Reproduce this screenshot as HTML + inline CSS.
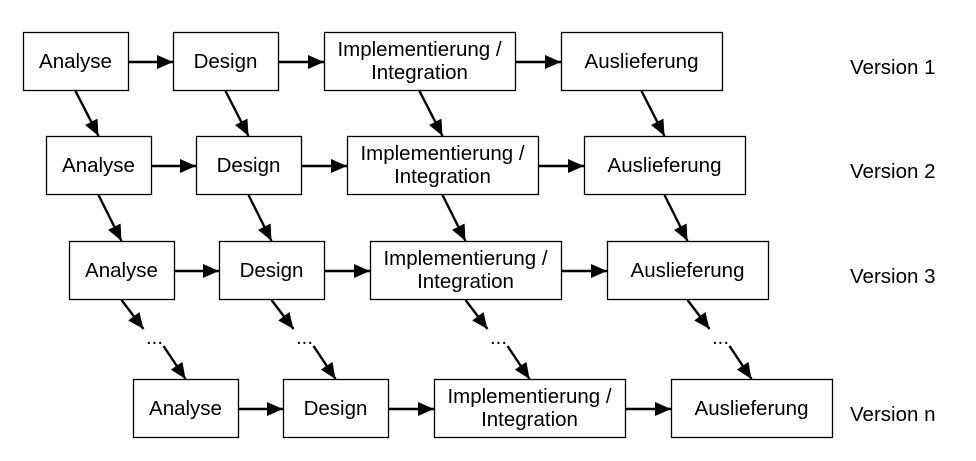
<!DOCTYPE html>
<html><head><meta charset="utf-8"><style>
html,body{margin:0;padding:0;background:#fff;width:976px;height:461px;overflow:hidden}
svg{display:block}
text{font-family:"Liberation Sans",Arial,sans-serif;font-size:20.5px;fill:#000}
</style></head><body>
<svg id="s" width="976" height="461" viewBox="0 0 976 461" xmlns="http://www.w3.org/2000/svg">
<defs>
<marker id="h" viewBox="0 0 16 14" markerWidth="16" markerHeight="14" refX="16" refY="7" orient="auto" markerUnits="userSpaceOnUse"><path d="M0,0 L16,7 L0,14 Z" fill="#000"/></marker></defs>
</svg>
<script>
var s=document.getElementById('s'),ns='http://www.w3.org/2000/svg';
function el(t,a,txt){var e=document.createElementNS(ns,t);for(var k in a)e.setAttribute(k,a[k]);if(txt)e.textContent=txt;s.appendChild(e);return e;}
var rows=[[0,32,'Version 1'],[23,136,'Version 2'],[46,241,'Version 3'],[110,379,'Version n']];
var cols=[[23,105,['Analyse']],[173,105,['Design']],[324,191,['Implementierung /','Integration']],[561,161,['Auslieferung']]];
var H=58;
rows.forEach(function(r,ri){
 var dx=r[0],y=r[1];
 cols.forEach(function(c,ci){
  var x=c[0]+dx;
  el('rect',{x:x+0.5,y:y+0.5,width:c[1],height:H,fill:'#fff',stroke:'#000','stroke-width':1.3});
  var cx=x+c[1]/2;
  if(c[2].length==1) el('text',{x:cx,y:y+H/2+7,'text-anchor':'middle'},c[2][0]);
  else{el('text',{x:cx,y:y+H/2-5,'text-anchor':'middle'},c[2][0]);el('text',{x:cx,y:y+H/2+18,'text-anchor':'middle'},c[2][1]);}
  if(ci<3){var nx=cols[ci+1][0]+dx;el('line',{x1:x+c[1]+1,y1:y+H/2+1,x2:nx,y2:y+H/2+1,stroke:'#000','stroke-width':2.4,'marker-end':'url(#h)'});}
  var bx=x+c[1]/2;
  if(ri<2){el('line',{x1:bx,y1:y+H+1,x2:bx+23,y2:rows[ri+1][1],stroke:'#000','stroke-width':2.4,'marker-end':'url(#h)'});}
  else if(ri==2){
   el('line',{x1:bx,y1:y+H+1,x2:bx+22,y2:y+H+30,stroke:'#000','stroke-width':2.4,'marker-end':'url(#h)'});
   el('text',{x:bx+33,y:y+H+45,'text-anchor':'middle'},'...');
   el('line',{x1:bx+42,y1:y+H+47,x2:bx+64,y2:rows[3][1],stroke:'#000','stroke-width':2.4,'marker-end':'url(#h)'});
  }
 });
 el('text',{x:850,y:y+42},r[2]);
});
</script>
</body></html>
